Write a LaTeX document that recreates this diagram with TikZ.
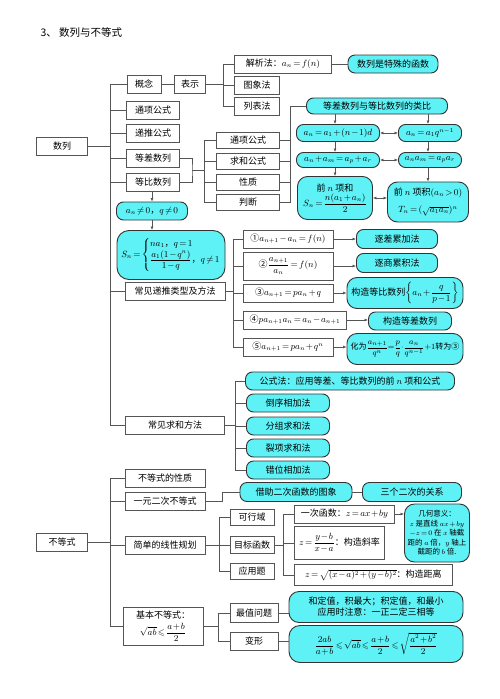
\documentclass[tikz,border=0pt]{standalone}
\usepackage{amsmath,amssymb}
\usepackage{fontspec}
\newfontfamily\cjk{Noto Sans CJK SC}
\usetikzlibrary{arrows.meta}
\definecolor{aqua}{HTML}{5EF2F6}
\definecolor{edge}{HTML}{555555}

\begin{document}
\medmuskip=1.5mu
\thickmuskip=2.5mu
\begin{tikzpicture}[x=1pt,y=-1pt,
  font=\cjk\fontsize{9}{11}\selectfont,
  wbox/.style={draw=edge,fill=white,line width=0.8pt,minimum height=18pt,inner sep=1pt,align=center},
  cbox/.style={draw=black!80,fill=aqua,line width=0.9pt,rounded corners=7pt,minimum height=18pt,inner sep=1pt,align=center},
  link/.style={draw=edge,line width=0.8pt},
  arr/.style={-{Latex[length=3.5pt,width=3pt]},draw=edge,line width=0.7pt},
  darr/.style={{Latex[length=3.5pt,width=3pt]}-{Latex[length=3.5pt,width=3pt]},draw=edge,line width=0.7pt}
]
\useasboundingbox[fill=white] (0,0) rectangle (500,699);
\node[anchor=west] (title) at (37,33) {\fontsize{10.5}{12}\selectfont 3、\ 数列与不等式};

% 数列
\node[wbox,minimum width=51pt] (shulie) at (62,146) {数列};
\node[wbox,minimum width=34pt] (gainian) at (144,84) {概念};
\node[wbox,minimum width=31pt] (biaoshi) at (190,84) {表示};
\node[wbox,minimum width=97pt] (jiexi) at (283,64) {解析法：$a_n=f(n)$};
\node[wbox,minimum width=45pt] (tuxiang) at (257,85) {图象法};
\node[wbox,minimum width=45pt] (liebiao) at (257,106) {列表法};
\node[cbox,minimum width=90pt] (hanshu) at (393,64) {数列是特殊的函数};
\node[wbox,minimum width=53pt] (tongxiang) at (153,110) {通项公式};
\node[wbox,minimum width=53pt] (ditui) at (153,133) {递推公式};
\node[wbox,minimum width=53pt] (dengcha) at (153,158) {等差数列};
\node[wbox,minimum width=53pt] (dengbi) at (153,182) {等比数列};
\node[wbox,minimum width=63pt,minimum height=16pt] (tx2) at (248,140) {通项公式};
\node[wbox,minimum width=63pt,minimum height=16pt] (qh2) at (248,161) {求和公式};
\node[wbox,minimum width=63pt,minimum height=16pt] (xz) at (248,182) {性质};
\node[wbox,minimum width=63pt,minimum height=16pt] (pd) at (248,202) {判断};

\node[cbox,minimum width=141pt,minimum height=16pt] (leibi) at (377,106) {等差数列与等比数列的类比};
\node[cbox,minimum width=83pt,minimum height=17pt] (r1l) at (338,133) {$a_n=a_1+(n-1)d$};
\node[cbox,minimum width=63pt,minimum height=17pt] (r1r) at (430,133) {$a_n=a_1q^{n-1}$};
\node[cbox,minimum width=83pt,minimum height=15pt] (r2l) at (338,160) {$a_n+a_m=a_p+a_r$};
\node[cbox,minimum width=63pt,minimum height=15pt] (r2r) at (430,160) {$a_na_m=a_pa_r$};
\node[cbox,minimum width=75pt,minimum height=43pt,rounded corners=10pt] (r3l) at (335,198) {前 $n$ 项和\\[1pt]$S_n=\dfrac{n(a_1+a_n)}{2}$};
\node[cbox,minimum width=81pt,minimum height=40pt,rounded corners=10pt] (r3r) at (428,202) {前 $n$ 项积$(a_n>0)$\\[6pt]$T_n=(\sqrt{a_1a_n})^n$};

\node[cbox,minimum width=71pt] (neq) at (152,211) {$a_n\neq0$，$q\neq0$};
\node[cbox,minimum width=108pt,minimum height=49pt,rounded corners=12pt] (sn) at (171,255)
  {$S_n=\left\{\begin{array}{@{}l@{}}na_1\text{，}q=1\\ \dfrac{a_1(1-q^n)}{1-q}\text{，}q\neq1\end{array}\right.$};

\node[wbox,minimum width=100pt] (ditui2) at (175,291) {常见递推类型及方法};
\node[wbox,minimum width=90pt] (m1) at (288,239) {①$a_{n+1}-a_n=f(n)$};
\node[wbox,minimum width=90pt,minimum height=28pt] (m2) at (288,266) {②$\dfrac{a_{n+1}}{a_n}=f(n)$};
\node[wbox,minimum width=90pt] (m3) at (288,293) {③$a_{n+1}=pa_n+q$};
\node[wbox,minimum width=103pt] (m4) at (295,320) {④$pa_{n+1}a_n=a_n-a_{n+1}$};
\node[wbox,minimum width=90pt] (m5) at (288,347) {⑤$a_{n+1}=pa_n+q^n$};
\node[cbox,minimum width=81pt,minimum height=19pt] (f1) at (397,239) {逐差累加法};
\node[cbox,minimum width=81pt,minimum height=19pt] (f2) at (397,263) {逐商累积法};
\node[cbox,minimum width=116pt,minimum height=31pt,rounded corners=10pt] (f3) at (405,293) {构造等比数列$\left\{a_n+\dfrac{q}{p-1}\right\}$};
\node[cbox,minimum width=83pt,minimum height=18pt] (f4) at (410,321) {构造等差数列};
\node[cbox,minimum width=116pt,minimum height=31pt,rounded corners=10pt,font=\cjk\fontsize{8}{10}\selectfont] (f5) at (405,349)
  {化为$\dfrac{a_{n+1}}{q^n}{=}\dfrac{p}{q}{\cdot}\dfrac{a_n}{q^{n-1}}{+}1$转为③};

\node[wbox,minimum width=99pt] (qiuhe) at (175,425) {常见求和方法};
\node[cbox,minimum width=209pt] (s1) at (350,381) {公式法：应用等差、等比数列的前 $n$ 项和公式};
\node[cbox,minimum width=83pt] (s2) at (288,403) {倒序相加法};
\node[cbox,minimum width=83pt] (s3) at (288,426) {分组求和法};
\node[cbox,minimum width=83pt] (s4) at (288,448) {裂项求和法};
\node[cbox,minimum width=83pt] (s5) at (288,470) {错位相加法};

% connectors 数列
\coordinate (tk) at (110,146);
\draw[link] (shulie) -- (tk);
\foreach \n in {gainian,tongxiang,ditui,dengcha,dengbi,ditui2,qiuhe}
  \draw[link] (tk) |- (\n.west);
\draw[link] (gainian) -- (biaoshi);
\coordinate (bs) at (223,84);
\draw[link] (biaoshi) -- (bs);
\foreach \n in {jiexi,tuxiang,liebiao}
  \draw[link] (bs) |- (\n.west);
\draw[link] (jiexi) -- (hanshu);
\coordinate (dc) at (192,170);
\coordinate (dc2) at (204,170);
\draw[link] (dengcha.east) -| (dc) |- (dengbi.east);
\draw[link] (dc) -- (dc2);
\coordinate (lb) at (290,106);
\foreach \n in {tx2,qh2,xz,pd}{
  \draw[link] (dc2) |- (\n.west);
  \draw[link] (\n.east) -| (lb);
}
\draw[link] (lb) -- (leibi.west);
\draw[arr] (leibi.south -| r3l) -- (r1l.north -| r3l);
\draw[arr] (r1l.south -| r3l) -- (r2l.north -| r3l);
\draw[arr] (r2l.south -| r3l) -- (r3l.north);
\draw[arr] (leibi.south -| r3r) -- (r1r.north -| r3r);
\draw[arr] (r1r.south -| r3r) -- (r2r.north -| r3r);
\draw[arr] (r2r.south -| r3r) -- (r3r.north);
\draw[darr] (r1l) -- (r1r);
\draw[darr] (r2l) -- (r2r);
\draw[darr] (r3l.east) -- (r3l.east -| r3r.west);
\draw[arr] (dengbi.south -| neq) -- (neq.north);
\draw[arr] (neq.south) -- (neq.south |- sn.north);
\coordinate (dt) at (233,291);
\draw[link] (ditui2) -- (dt);
\foreach \n/\m in {m1/f1,m2/f2,m3/f3,m4/f4,m5/f5}{
  \draw[link] (dt) |- (\n.west);
  \draw[arr] (\n.east) -- (\n.east -| \m.west);
}
\coordinate (qh) at (235,425);
\draw[link] (qiuhe) -- (qh);
\foreach \n in {s1,s2,s3,s4,s5}
  \draw[link] (qh) |- (\n.west);

% 不等式
\node[wbox,minimum width=51pt] (budengshi) at (62,542) {不等式};
\node[wbox,minimum width=80pt] (xingzhi) at (165,478) {不等式的性质};
\node[wbox,minimum width=80pt] (yiyuan) at (165,501) {一元二次不等式};
\node[wbox,minimum width=80pt] (xianxing) at (165,545) {简单的线性规划};
\node[wbox,minimum width=80pt,minimum height=38pt] (jiben) at (163,626) {基本不等式：\\[3pt]$\sqrt{ab}\leqslant\dfrac{a+b}{2}$};
\node[cbox,minimum width=112pt,minimum height=19pt] (jiezhu) at (296,492) {借助二次函数的图象};
\node[cbox,minimum width=99pt,minimum height=19pt] (sange) at (412,492) {三个二次的关系};
\node[wbox,minimum width=44pt,minimum height=16pt] (kexing) at (252,517) {可行域};
\node[wbox,minimum width=44pt,minimum height=17pt] (mubiao) at (252,545) {目标函数};
\node[wbox,minimum width=44pt,minimum height=16pt] (yingyong) at (252,571) {应用题};
\node[wbox,minimum width=100pt,minimum height=18pt,anchor=west] (z1) at (294,514) {一次函数：$z=ax+by$};
\node[wbox,minimum width=90pt,minimum height=33pt,anchor=west] (z2) at (294,543) {$z=\dfrac{y-b}{x-a}$：构造斜率};
\node[wbox,minimum width=158pt,minimum height=21pt,anchor=west] (z3) at (294,575) {$z=\sqrt{(x-a)^2+(y-b)^2}$：构造距离};
\node[cbox,minimum width=65pt,minimum height=58pt,rounded corners=10pt,font=\cjk\fontsize{7.5}{9.5}\selectfont] (jihe) at (437,533)
  {几何意义：\\$z$ 是直线 $ax+by$\\$-z=0$ 在 $x$ 轴截\\距的 $a$ 倍，$y$ 轴上\\截距的 $b$ 倍.};
\node[wbox,minimum width=48pt,minimum height=19pt] (zuizhi) at (254,613) {最值问题};
\node[wbox,minimum width=48pt,minimum height=18pt] (bianxing) at (254,641) {变形};
\node[cbox,minimum width=174pt,minimum height=31pt,rounded corners=10pt] (hedz) at (376,607) {和定值，积最大；积定值，和最小\\应用时注意：一正二定三相等};
\node[cbox,minimum width=174pt,minimum height=37pt,rounded corners=11pt] (chain) at (376,644)
  {$\dfrac{2ab}{a+b}\leqslant\sqrt{ab}\leqslant\dfrac{a+b}{2}\leqslant\sqrt{\dfrac{a^2+b^2}{2}}$};

% connectors 不等式
\coordinate (tk2) at (110,542);
\draw[link] (budengshi) -- (tk2);
\foreach \n in {xingzhi,yiyuan,xianxing,jiben}
  \draw[link] (tk2) |- (\n.west);
\coordinate (yy) at (222,501);
\draw[link] (yiyuan) -- (yy) |- (jiezhu.west);
\draw[link] (jiezhu) -- (sange);
\coordinate (xx) at (219,545);
\draw[link] (xianxing) -- (xx);
\foreach \n in {kexing,mubiao,yingyong}
  \draw[link] (xx) |- (\n.west);
\coordinate (mb) at (283,545);
\draw[link] (mubiao) -- (mb);
\foreach \n in {z1,z2,z3}
  \draw[link] (mb) |- (\n.west);
\draw[arr] (z1) -- (z1 -| jihe.west);
\coordinate (jb) at (218,626);
\draw[link] (jiben) -- (jb);
\foreach \n in {zuizhi,bianxing}
  \draw[link] (jb) |- (\n.west);
\draw[link] (zuizhi.east) -- (zuizhi.east -| hedz.west);
\draw[link] (bianxing.east) -- (bianxing.east -| chain.west);
\end{tikzpicture}
\end{document}
